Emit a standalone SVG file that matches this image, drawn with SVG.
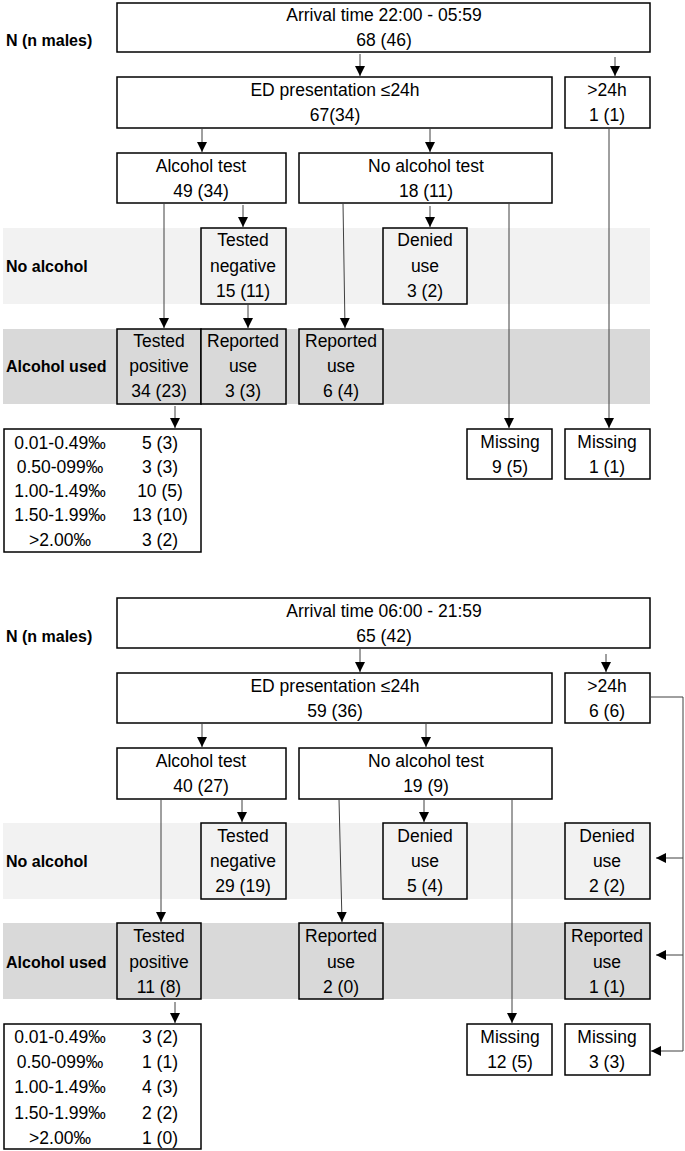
<svg xmlns="http://www.w3.org/2000/svg" width="685" height="1151" viewBox="0 0 685 1151">
<style>
text{font-family:"Liberation Sans",Arial,sans-serif;font-size:17.5px;fill:#000;text-anchor:middle;dominant-baseline:central}
.lbl{font-weight:bold;text-anchor:start;font-size:16px}
.b{fill:#fff;stroke:#000;stroke-width:1.5}
.g1{fill:#f2f2f2}
.g2{fill:#d9d9d9}
.c{stroke:#404040;stroke-width:1;fill:none;marker-end:url(#a)}
</style>
<defs><marker id="a" markerWidth="12" markerHeight="12" refX="10" refY="5" orient="auto" markerUnits="userSpaceOnUse"><path d="M0,0 L10,5 L0,10 Z" fill="#000"/></marker></defs>
<!-- TOP -->
<rect class="g1" x="3" y="228" width="647" height="76"/>
<rect class="g2" x="3" y="329" width="647" height="75"/>
<text class="lbl" x="6" y="40">N (n males)</text>
<text class="lbl" x="6" y="266">No alcohol</text>
<text class="lbl" x="6" y="366">Alcohol used</text>
<g id="t-arr"><rect class="b" x="117" y="3" width="533" height="49"/><text x="384" y="15">Arrival time 22:00 - 05:59</text><text x="384" y="40">68 (46)</text></g>
<g id="t-ed"><rect class="b" x="117" y="77" width="435" height="51"/><text x="335" y="90">ED presentation ≤24h</text><text x="335" y="115">67(34)</text></g>
<g id="t-gt"><rect class="b" x="565" y="77" width="85" height="51"/><text x="607" y="90">&gt;24h</text><text x="607" y="115">1 (1)</text></g>
<g id="t-at"><rect class="b" x="117" y="153" width="169" height="50"/><text x="201" y="166">Alcohol test</text><text x="201" y="191">49 (34)</text></g>
<g id="t-nat"><rect class="b" x="299" y="153" width="253" height="50"/><text x="426" y="166">No alcohol test</text><text x="426" y="191">18 (11)</text></g>
<g id="t-neg"><rect class="b g1" x="201" y="228" width="85" height="76"/><text x="243" y="240">Tested</text><text x="243" y="266">negative</text><text x="243" y="291">15 (11)</text></g>
<g id="t-den"><rect class="b g1" x="383" y="228" width="84" height="76"/><text x="425" y="240">Denied</text><text x="425" y="266">use</text><text x="425" y="291">3 (2)</text></g>
<g id="t-pos"><rect class="b g2" x="117" y="329" width="84" height="75"/><text x="159" y="341">Tested</text><text x="159" y="366">positive</text><text x="159" y="391">34 (23)</text></g>
<g id="t-rep1"><rect class="b g2" x="201" y="329" width="85" height="75"/><text x="243" y="341">Reported</text><text x="243" y="366">use</text><text x="243" y="391">3 (3)</text></g>
<g id="t-rep2"><rect class="b g2" x="299" y="329" width="84" height="75"/><text x="341" y="341">Reported</text><text x="341" y="366">use</text><text x="341" y="391">6 (4)</text></g>
<g id="t-mis1"><rect class="b" x="467" y="429" width="85" height="50"/><text x="510" y="442">Missing</text><text x="510" y="467">9 (5)</text></g>
<g id="t-mis2"><rect class="b" x="565" y="429" width="85" height="50"/><text x="607" y="442">Missing</text><text x="607" y="467">1 (1)</text></g>
<g id="t-tab"><rect class="b" x="4" y="429" width="197" height="123"/>
<text x="60" y="443">0.01-0.49‰</text><text x="160" y="443">5 (3)</text>
<text x="60" y="467">0.50-099‰</text><text x="160" y="467">3 (3)</text>
<text x="60" y="491">1.00-1.49‰</text><text x="160" y="491">10 (5)</text>
<text x="60" y="515">1.50-1.99‰</text><text x="160" y="515">13 (10)</text>
<text x="60" y="540">&gt;2.00‰</text><text x="160" y="540">3 (2)</text></g>
<g id="t-conn">
<line class="c" x1="360" y1="54" x2="360" y2="76"/>
<line class="c" x1="615" y1="57" x2="615" y2="76"/>
<line class="c" x1="202" y1="128" x2="202" y2="152"/>
<line class="c" x1="430" y1="128" x2="430" y2="152"/>
<line class="c" x1="243" y1="205" x2="243" y2="227"/>
<line class="c" x1="430" y1="206" x2="430" y2="227"/>
<line class="c" x1="164" y1="203" x2="164" y2="328"/>
<line class="c" x1="248" y1="304" x2="248" y2="328"/>
<line class="c" x1="343" y1="203" x2="345" y2="328"/>
<line class="c" x1="509" y1="203" x2="509" y2="428"/>
<line class="c" x1="609" y1="128" x2="609" y2="428"/>
<line class="c" x1="175" y1="406" x2="175" y2="428"/>
</g>
<!-- BOTTOM -->
<rect class="g1" x="3" y="823" width="647" height="76"/>
<rect class="g2" x="3" y="923" width="647" height="76"/>
<text class="lbl" x="6" y="636">N (n males)</text>
<text class="lbl" x="6" y="861">No alcohol</text>
<text class="lbl" x="6" y="962">Alcohol used</text>
<g id="b-arr"><rect class="b" x="117" y="598" width="533" height="50"/><text x="384" y="611">Arrival time 06:00 - 21:59</text><text x="384" y="636">65 (42)</text></g>
<g id="b-ed"><rect class="b" x="117" y="673" width="435" height="50"/><text x="335" y="686">ED presentation ≤24h</text><text x="335" y="711">59 (36)</text></g>
<g id="b-gt"><rect class="b" x="565" y="673" width="85" height="50"/><text x="607" y="686">&gt;24h</text><text x="607" y="711">6 (6)</text></g>
<g id="b-at"><rect class="b" x="117" y="748" width="169" height="51"/><text x="201" y="761">Alcohol test</text><text x="201" y="786">40 (27)</text></g>
<g id="b-nat"><rect class="b" x="299" y="748" width="253" height="51"/><text x="426" y="761">No alcohol test</text><text x="426" y="786">19 (9)</text></g>
<g id="b-neg"><rect class="b g1" x="201" y="823" width="85" height="76"/><text x="243" y="836">Tested</text><text x="243" y="861">negative</text><text x="243" y="886">29 (19)</text></g>
<g id="b-den"><rect class="b g1" x="383" y="823" width="84" height="76"/><text x="425" y="836">Denied</text><text x="425" y="861">use</text><text x="425" y="886">5 (4)</text></g>
<g id="b-den2"><rect class="b g1" x="565" y="823" width="85" height="76"/><text x="607" y="836">Denied</text><text x="607" y="861">use</text><text x="607" y="886">2 (2)</text></g>
<g id="b-pos"><rect class="b g2" x="117" y="923" width="84" height="76"/><text x="159" y="936">Tested</text><text x="159" y="962">positive</text><text x="159" y="987">11 (8)</text></g>
<g id="b-rep"><rect class="b g2" x="299" y="923" width="84" height="76"/><text x="341" y="936">Reported</text><text x="341" y="962">use</text><text x="341" y="987">2 (0)</text></g>
<g id="b-rep2"><rect class="b g2" x="565" y="923" width="85" height="76"/><text x="607" y="936">Reported</text><text x="607" y="962">use</text><text x="607" y="987">1 (1)</text></g>
<g id="b-mis1"><rect class="b" x="467" y="1024" width="85" height="51"/><text x="510" y="1037">Missing</text><text x="510" y="1062">12 (5)</text></g>
<g id="b-mis2"><rect class="b" x="565" y="1024" width="85" height="51"/><text x="607" y="1037">Missing</text><text x="607" y="1062">3 (3)</text></g>
<g id="b-tab"><rect class="b" x="4" y="1024" width="197" height="125"/>
<text x="60" y="1037">0.01-0.49‰</text><text x="160" y="1037">3 (2)</text>
<text x="60" y="1062">0.50-099‰</text><text x="160" y="1062">1 (1)</text>
<text x="60" y="1087">1.00-1.49‰</text><text x="160" y="1087">4 (3)</text>
<text x="60" y="1113">1.50-1.99‰</text><text x="160" y="1113">2 (2)</text>
<text x="60" y="1138">&gt;2.00‰</text><text x="160" y="1138">1 (0)</text></g>
<g id="b-conn">
<line class="c" x1="360" y1="649" x2="360" y2="672"/>
<line class="c" x1="606" y1="654" x2="606" y2="672"/>
<line class="c" x1="202" y1="723" x2="202" y2="747"/>
<line class="c" x1="426" y1="723" x2="426" y2="747"/>
<line class="c" x1="242" y1="800" x2="242" y2="822"/>
<line class="c" x1="424" y1="800" x2="424" y2="822"/>
<line class="c" x1="161" y1="799" x2="161" y2="922"/>
<line class="c" x1="339" y1="799" x2="342" y2="922"/>
<line class="c" x1="512" y1="799" x2="512" y2="1023"/>
<line class="c" x1="175" y1="1002" x2="175" y2="1023"/>
<polyline points="650,697 683,697 683,1051" stroke="#404040" stroke-width="1" fill="none"/>
<line class="c" x1="683" y1="858" x2="656" y2="858"/>
<line class="c" x1="683" y1="955" x2="656" y2="955"/>
<line class="c" x1="683" y1="1051" x2="651" y2="1051"/>
</g>
</svg>
